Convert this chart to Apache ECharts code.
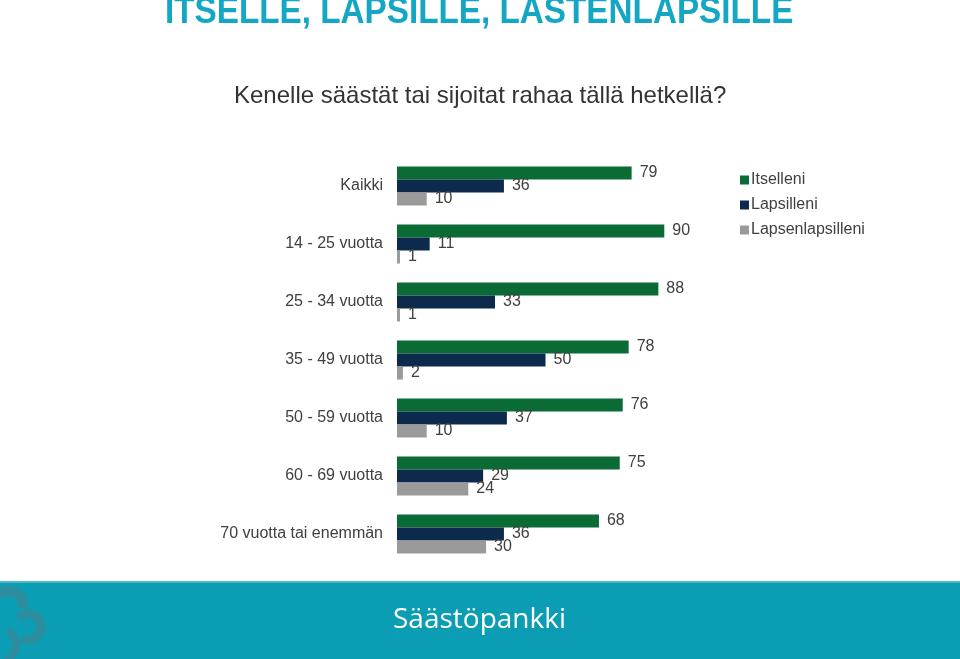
<!DOCTYPE html>
<html><head><meta charset="utf-8">
<script src="https://cdn.jsdelivr.net/npm/echarts@6/dist/echarts.min.js"></script>
<style>html,body{margin:0;padding:0;background:#fff}#c{width:960px;height:659px}</style>
</head><body><div id="c"></div>
<script>
var categories = ['Kaikki','14 - 25 vuotta','25 - 34 vuotta','35 - 49 vuotta','50 - 59 vuotta','60 - 69 vuotta','70 vuotta tai enemmän'];
var seriesNames = ['Itselleni','Lapsilleni','Lapsenlapsilleni'];
var itselleni = [79, 90, 88, 78, 76, 75, 68];
var lapsilleni = [36, 11, 33, 50, 37, 29, 36];
var lapsenlapsilleni = [10, 1, 1, 2, 10, 24, 30];
var colors = ['#0b6b35', '#0c2a4c', '#9a9a9a'];

var chart = echarts.init(document.getElementById('c'), null, {renderer:'canvas'});
function mk(name, data, color){
  return {
    name: name, type: 'bar', data: data, barWidth: 13, barGap: '0%',
    itemStyle: {color: color},
    label: {show: true, position: 'right', distance: 8, color: '#404040', fontSize: 16, fontFamily: 'Liberation Sans, Arial, sans-serif'},
    animation: false
  };
}
chart.setOption({
  animation: false,
  textStyle: {fontFamily: 'Liberation Sans, Arial, sans-serif'},
  grid: {left: 397, top: 157, width: 297, height: 406, containLabel: false},
  xAxis: {type: 'value', min: 0, max: 100, show: false},
  yAxis: {type: 'category', data: categories, inverse: true,
    axisLine: {show: false}, axisTick: {show: false},
    axisLabel: {margin: 14, color: '#404040', fontSize: 16, fontFamily: 'Liberation Sans, Arial, sans-serif'}},
  legend: {orient: 'vertical', left: 735, top: 167, itemWidth: 9, itemHeight: 9, itemGap: 9,
    icon: 'rect', data: seriesNames,
    textStyle: {color: '#404040', fontSize: 16, padding: [0,0,0,-3]}},
  series: [mk(seriesNames[0], itselleni, colors[0]), mk(seriesNames[1], lapsilleni, colors[1]), mk(seriesNames[2], lapsenlapsilleni, colors[2])],
  graphic: [
    {type: 'text', x: 165, y: 13, scaleX: 0.924, style: {x: 0, y: 0, text: 'ITSELLE, LAPSILLE, LASTENLAPSILLE', fill: '#14a7c3', verticalAlign: 'middle', font: 'bold 36px "Liberation Sans", Arial, sans-serif'}},
    {type: 'text', left: 234, top: 84, style: {text: 'Kenelle säästät tai sijoitat rahaa tällä hetkellä?', fill: '#333333', font: '24px "Liberation Sans", Arial, sans-serif'}},
    {type: 'rect', shape: {x: 0, y: 581, width: 960, height: 78}, style: {fill: '#0a9db3'}, z: 10},
    {type: 'rect', shape: {x: 0, y: 581, width: 960, height: 2}, style: {fill: '#4fb8c8'}, z: 11},
    {type: 'arc', shape: {cx: 8, cy: 606, r: 15, startAngle: -Math.PI*0.95, endAngle: Math.PI*0.05}, style: {stroke: '#2e8c9f', lineWidth: 10, fill: null}, z: 11},
    {type: 'arc', shape: {cx: 28, cy: 627, r: 13, startAngle: -Math.PI*0.75, endAngle: Math.PI*0.65}, style: {stroke: '#2e8c9f', lineWidth: 9, fill: null}, z: 11},
    {type: 'arc', shape: {cx: 0, cy: 645, r: 16, startAngle: -Math.PI*0.35, endAngle: Math.PI*0.4}, style: {stroke: '#2e8c9f', lineWidth: 8, fill: null}, z: 11},
    {type: 'text', left: 393, top: 606, style: {text: 'Säästöpankki', fill: '#ffffff', font: '28px "Open Sans", sans-serif'}, z: 12}
  ]
});
</script></body></html>
